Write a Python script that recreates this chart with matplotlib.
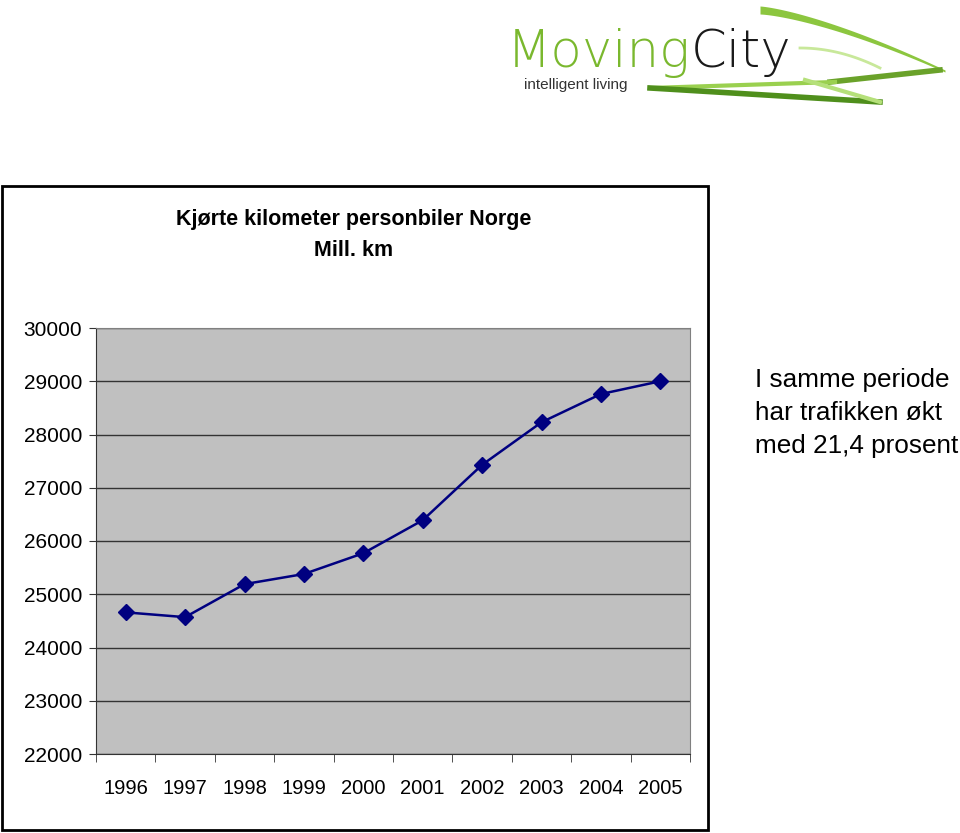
import matplotlib.pyplot as plt
from matplotlib.patches import Rectangle
import numpy as np

plt.rcParams['font.family'] = ['Liberation Sans', 'DejaVu Sans']

years = ['1996', '1997', '1998', '1999', '2000', '2001', '2002', '2003', '2004', '2005']
km = [24660, 24570, 25190, 25380, 25770, 26390, 27430, 28230, 28760, 29000]
y_ticks = [22000, 23000, 24000, 25000, 26000, 27000, 28000, 29000, 30000]

fig = plt.figure(figsize=(9.6, 8.33), dpi=100)

# outer chart frame
fig.patches.append(Rectangle((2 / 960, 1 - 830 / 833), 706 / 960, 644 / 833,
                             transform=fig.transFigure, fill=False,
                             edgecolor='black', linewidth=2))

ax = fig.add_axes([96 / 960, 1 - 754 / 833, 594 / 960, 426 / 833])
ax.set_facecolor('#c0c0c0')
x = np.arange(len(years))
ax.plot(x, km, color='#000080', linewidth=1.8, marker='D', markersize=8,
        zorder=3)

ax.set_xlim(-0.5, len(years) - 0.5)
ax.set_ylim(22000, 30000)
ax.set_yticks(y_ticks)
ax.set_yticklabels([str(v) for v in y_ticks], fontsize=15)
ax.set_xticks(x)
ax.set_xticklabels(years, fontsize=14.5)
ax.tick_params(axis='x', length=0, pad=18)
ax.set_xticks(np.arange(-0.5, len(years)), minor=True)
ax.tick_params(axis='x', which='minor', length=6, color='#333333')
ax.tick_params(axis='y', length=5, color='#333333', pad=5)
ax.grid(axis='y', color='#333333', linewidth=1)
ax.set_axisbelow(True)
for side in ['top', 'right']:
    ax.spines[side].set_color('#808080')
ax.spines['left'].set_color('#333333')
ax.spines['bottom'].set_color('#333333')

fig.text(354 / 960, 1 - 220 / 833, 'Kjørte kilometer personbiler Norge',
         ha='center', va='center', fontsize=15.5, fontweight='bold')
fig.text(354 / 960, 1 - 250 / 833, 'Mill. km',
         ha='center', va='center', fontsize=15.5, fontweight='bold')

fig.text(755 / 960, 1 - 380 / 833, 'I samme periode', ha='left', va='center',
         fontsize=18.8)
fig.text(755 / 960, 1 - 413 / 833, 'har trafikken økt', ha='left', va='center',
         fontsize=18.8)
fig.text(755 / 960, 1 - 446 / 833, 'med 21,4 prosent', ha='left', va='center',
         fontsize=18.8)

# logo
lax = fig.add_axes([0, 0, 1, 1], facecolor='none')
lax.set_xlim(0, 960)
lax.set_ylim(833, 0)
lax.axis('off')
t = np.linspace(0, 1, 80)
# green swirl ribbon
lax.fill_between(760 + 185 * t, 12 + 58 * t ** 1.4 - 6 * (1 - t),
                 14 + 58 * t ** 1.4, color='#8cc63f', lw=0)
lax.plot(940 - 110 * t, 70 + 12 * t, color='#6aa22a', linewidth=4)
lax.plot(835 - 185 * t, 82 + 6 * t, color='#9ad04f', linewidth=3)
lax.plot(650 + 230 * t, 88 + 14 * t, color='#4f8f1c', linewidth=4)
lax.plot(880 - 75 * t, 102 - 22 * t, color='#b5e07a', linewidth=3)
lax.plot(800 + 80 * t, 48 + 20 * t ** 2, color='#c8e89a', linewidth=2)

t1 = lax.text(507, 53, 'Moving', color='#7ab82e', fontsize=37,
              ha='left', va='center', fontfamily='DejaVu Sans',
              fontweight='light')
lax.annotate('City', xy=(1, 0.5), xycoords=t1, color='#1a1a1a', fontsize=37,
             ha='left', va='center', fontfamily='DejaVu Sans',
             fontweight='light')
lax.text(524, 85, 'intelligent living', color='#333333', fontsize=11,
         ha='left', va='center')

fig.savefig('out.png', dpi=100)
